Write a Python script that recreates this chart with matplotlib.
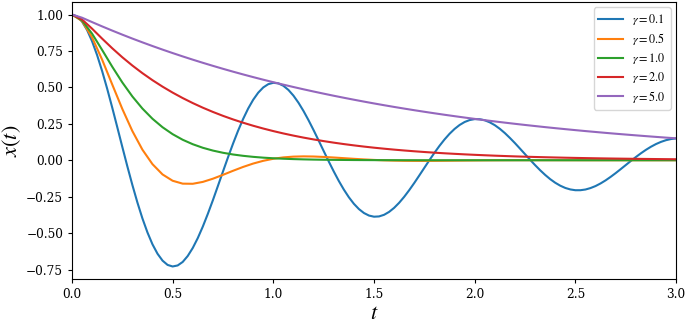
import numpy as np
import matplotlib
matplotlib.use("Agg")
import matplotlib.pyplot as plt

plt.rcParams['font.family'] = 'serif'
plt.rcParams['font.serif'] = ['DejaVu Serif']
plt.rcParams['mathtext.fontset'] = 'stix'

# time grids (s)
t_fine = [round(i * 0.025, 4) for i in range(121)]
t = [round(i * 0.05, 3) for i in range(61)]

x_g01 = [1.000, 0.9878, 0.952, 0.8943, 0.8167, 0.7217, 0.612, 0.4911, 0.362, 0.2280,
         0.0926, -0.0408, -0.169, -0.2893, -0.399, -0.4953, -0.577, -0.6416, -0.689, -0.7183,
         -0.729, -0.7220, -0.698, -0.6571, -0.602, -0.5339, -0.455, -0.3673, -0.274, -0.1761,
         -0.0775, 0.0201, 0.114, 0.2025, 0.283, 0.3546, 0.415, 0.4637, 0.4996, 0.5222,
         0.5315, 0.5276, 0.511, 0.4826, 0.4434, 0.3946, 0.3378, 0.2744, 0.2066, 0.1356,
         0.0637, -0.0077, -0.0765, -0.1415, -0.2009, -0.2537, -0.2988, -0.3350, -0.3621, -0.3796,
         -0.3874, -0.3855, -0.3744, -0.3544, -0.3266, -0.2916, -0.2507, -0.2049, -0.1558, -0.1041,
         -0.0518, 0.0004, 0.0509, 0.0986, 0.1424, 0.1815, 0.2148, 0.2420, 0.2625, 0.2759,
         0.2823, 0.2815, 0.2742, 0.2601, 0.2405, 0.2155, 0.1861, 0.1528, 0.1173, 0.0797,
         0.0416, 0.0034, -0.0335, -0.0686, -0.1008, -0.1298, -0.1545, -0.1747, -0.1902, -0.2004,
         -0.2057, -0.2056, -0.2008, -0.1909, -0.1771, -0.1591, -0.1380, -0.1140, -0.0882, -0.0609,
         -0.0331, -0.0052, 0.0218, 0.0475, 0.0713, 0.0926, 0.1110, 0.1261, 0.1378, 0.1456,
         0.1498]

x_g05 = [1.000, 0.9558, 0.8432, 0.6902, 0.5204, 0.3528, 0.2006, 0.0726, -0.0269, -0.0974,
         -0.1407, -0.1606, -0.1615, -0.1486, -0.1267, -0.1001, -0.0723, -0.0459, -0.0227, -0.0039,
         0.0102, 0.0196, 0.0248, 0.0266, 0.0256, 0.0227, 0.0188, 0.0143, 0.0098, 0.0057,
         0.0022, -0.0005, -0.0024, -0.0037, -0.0042, -0.0043, -0.0040, -0.0034, -0.0027, -0.0020,
         -0.0013, -0.0007, -0.0003, 0.0000, 0.0002, 0.0003, 0.0003, 0.0003, 0.0003, 0.0002,
         0.0002, 0.0001, 0.0001, 0.0001, 0.0000, 0.0000, 0.0000, 0.0000, 0.0000, 0.0000,
         0.0000]

x_g10 = [1.000, 0.9599, 0.8687, 0.7569, 0.6423, 0.5344, 0.4380, 0.3548, 0.2846, 0.2265,
         0.1790, 0.1406, 0.1100, 0.0856, 0.0664, 0.0513, 0.0395, 0.0304, 0.0233, 0.0178,
         0.0136, 0.0104, 0.0079, 0.0060, 0.0045, 0.0034, 0.0026, 0.0020, 0.0015, 0.0011,
         0.0008, 0.0006, 0.0005, 0.0003, 0.0003, 0.0002, 0.0001, 0.0001, 0.0001, 0.0001,
         0.0000, 0.0000, 0.0000, 0.0000, 0.0000, 0.0000, 0.0000, 0.0000, 0.0000, 0.0000,
         0.0000, 0.0000, 0.0000, 0.0000, 0.0000, 0.0000, 0.0000, 0.0000, 0.0000, 0.0000,
         0.0000]

x_g20 = [1.000, 0.9664, 0.9030, 0.8346, 0.7687, 0.7070, 0.6501, 0.5977, 0.5494, 0.5051,
         0.4643, 0.4268, 0.3924, 0.3607, 0.3316, 0.3048, 0.2802, 0.2576, 0.2368, 0.2177,
         0.2001, 0.1839, 0.1691, 0.1554, 0.1429, 0.1314, 0.1208, 0.1110, 0.1021, 0.0938,
         0.0862, 0.0793, 0.0729, 0.0670, 0.0616, 0.0566, 0.0520, 0.0478, 0.0440, 0.0404,
         0.0372, 0.0342, 0.0314, 0.0289, 0.0265, 0.0244, 0.0224, 0.0206, 0.0190, 0.0174,
         0.0160, 0.0147, 0.0135, 0.0124, 0.0114, 0.0105, 0.0097, 0.0089, 0.0082, 0.0075,
         0.0069]

x_g50 = [1.000, 0.9783, 0.9482, 0.9186, 0.8899, 0.8621, 0.8351, 0.8091, 0.7838, 0.7593,
         0.7356, 0.7126, 0.6903, 0.6688, 0.6479, 0.6276, 0.6080, 0.5890, 0.5706, 0.5528,
         0.5356, 0.5188, 0.5026, 0.4869, 0.4717, 0.4570, 0.4427, 0.4289, 0.4155, 0.4025,
         0.3899, 0.3777, 0.3659, 0.3545, 0.3434, 0.3327, 0.3223, 0.3122, 0.3025, 0.2930,
         0.2839, 0.2750, 0.2664, 0.2581, 0.2500, 0.2422, 0.2347, 0.2273, 0.2202, 0.2134,
         0.2067, 0.2002, 0.1940, 0.1879, 0.1820, 0.1764, 0.1709, 0.1655, 0.1603, 0.1553,
         0.1505]

series = [(t_fine, x_g01, r'$\gamma=0.1$'), (t, x_g05, r'$\gamma=0.5$'),
          (t, x_g10, r'$\gamma=1.0$'), (t, x_g20, r'$\gamma=2.0$'),
          (t, x_g50, r'$\gamma=5.0$')]

fig = plt.figure(figsize=(6.85, 3.23), dpi=100)
ax = fig.add_axes([0.105, 0.136, 0.882, 0.858])
for tt, ys, lab in series:
    ax.plot(tt, ys, lw=1.5, label=lab)

ax.set_xlim(0, 3.0)
ax.set_xticks([0.0, 0.5, 1.0, 1.5, 2.0, 2.5, 3.0])
ax.set_yticks([-0.75, -0.5, -0.25, 0.0, 0.25, 0.5, 0.75, 1.0])
ax.tick_params(labelsize=8.7, length=3.0, pad=3.3)
ax.set_xlabel(r'$t$', fontsize=16, labelpad=1.0)
ax.set_ylabel(r'$x(t)$', fontsize=16, labelpad=2.5)
ax.legend(loc='upper right', fontsize=8.7, labelspacing=0.32, borderaxespad=0.45)

fig.savefig('out.png', dpi=100)
